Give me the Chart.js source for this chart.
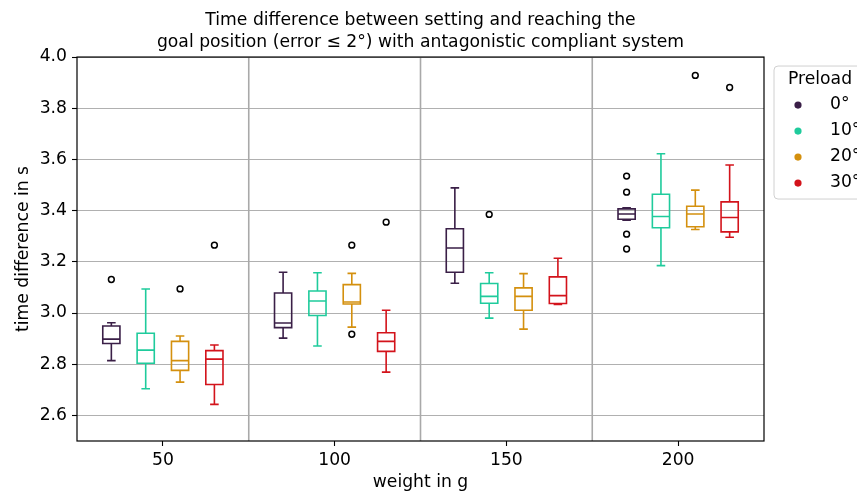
<!DOCTYPE html>
<html>
<head>
<meta charset="utf-8">
<script src="https://cdn.jsdelivr.net/npm/chart.js@4.4.1/dist/chart.umd.min.js"></script>
<style>
  html, body { margin: 0; padding: 0; background: #fff; overflow: hidden; }
  #wrap { width: 857px; height: 493px; position: relative; }
</style>
</head>
<body>
<div id="wrap"><canvas id="chart" width="857" height="493"></canvas></div>
<script>
// Categories and tick labels
const weights = [50, 100, 150, 200];
const preloads = ['0°', '10°', '20°', '30°'];
const weightTicks = [50, 100, 150, 200];
const timeTicks = [2.6, 2.8, 3.0, 3.2, 3.4, 3.6, 3.8, 4.0];
const groupDividers = [75, 125, 175];

// Box plot statistics, one row per preload, one column per weight
const lowerWhisker = [
  [2.814, 2.902, 3.116, 3.363],
  [2.704, 2.871, 2.980, 3.185],
  [2.730, 2.945, 2.937, 3.326],
  [2.643, 2.769, 3.033, 3.296]
];
const lowerQuartile = [
  [2.881, 2.943, 3.159, 3.366],
  [2.804, 2.990, 3.038, 3.333],
  [2.776, 3.035, 3.011, 3.337],
  [2.721, 2.850, 3.037, 3.317]
];
const medianTime = [
  [2.898, 2.961, 3.254, 3.387],
  [2.855, 3.047, 3.065, 3.377],
  [2.814, 3.043, 3.065, 3.387],
  [2.820, 2.889, 3.068, 3.373]
];
const upperQuartile = [
  [2.949, 3.078, 3.329, 3.407],
  [2.921, 3.086, 3.115, 3.464],
  [2.889, 3.111, 3.098, 3.417],
  [2.853, 2.923, 3.141, 3.434]
];
const upperWhisker = [
  [2.962, 3.159, 3.489, 3.411],
  [3.094, 3.157, 3.157, 3.622],
  [2.910, 3.155, 3.154, 3.480],
  [2.875, 3.011, 3.214, 3.578]
];
// Fliers per preload, one list per weight
const fliers = [
  [[3.131], [], [], [3.535, 3.472, 3.308, 3.250]],
  [[], [], [3.385], []],
  [[3.094], [3.265, 2.917], [], [3.928]],
  [[3.265], [3.355], [], [3.881]]
];

// Styling
const preloadColors = ['#3a1f47', '#1fcb9c', '#d4900e', '#d3131b'];
const offsets = [-15, -5, 5, 15];   // box centre relative to weight
const boxHalf = 2.5;
const capHalf = 1.25;
const FONT = "'DejaVu Sans', sans-serif";
const FS = 17.2;

const flierDatasets = preloads.map((label, s) => ({
  label,
  data: fliers[s].flatMap((vals, g) => vals.map(v => ({ x: weights[g] + offsets[s], y: v }))),
  pointStyle: 'circle',
  pointRadius: 2.9,
  pointHoverRadius: 2.9,
  pointBorderWidth: 1.5,
  borderColor: '#000',
  backgroundColor: 'rgba(0,0,0,0)'
}));

const boxPlot = {
  id: 'boxPlot',
  beforeDatasetsDraw(chart) {
    const { ctx, chartArea, scales: { x } } = chart;
    ctx.save();
    ctx.strokeStyle = '#a9a9a9';
    ctx.lineWidth = 1.6;
    groupDividers.forEach(v => {
      const px = x.getPixelForValue(v);
      ctx.beginPath();
      ctx.moveTo(px, chartArea.top);
      ctx.lineTo(px, chartArea.bottom);
      ctx.stroke();
    });
    ctx.restore();
  },
  afterDatasetsDraw(chart) {
    const { ctx, scales: { x, y } } = chart;
    ctx.save();
    ctx.lineWidth = 1.6;
    preloads.forEach((p, s) => {
      ctx.strokeStyle = preloadColors[s];
      weights.forEach((w, g) => {
        const c = w + offsets[s];
        const xl = x.getPixelForValue(c - boxHalf);
        const xr = x.getPixelForValue(c + boxHalf);
        const cl = x.getPixelForValue(c - capHalf);
        const cr = x.getPixelForValue(c + capHalf);
        const xc = x.getPixelForValue(c);
        const yLo = y.getPixelForValue(lowerWhisker[s][g]);
        const yQ1 = y.getPixelForValue(lowerQuartile[s][g]);
        const yMed = y.getPixelForValue(medianTime[s][g]);
        const yQ3 = y.getPixelForValue(upperQuartile[s][g]);
        const yHi = y.getPixelForValue(upperWhisker[s][g]);
        ctx.beginPath();
        ctx.rect(xl, yQ3, xr - xl, yQ1 - yQ3);
        ctx.moveTo(xl, yMed); ctx.lineTo(xr, yMed);
        ctx.moveTo(xc, yQ1); ctx.lineTo(xc, yLo);
        ctx.moveTo(xc, yQ3); ctx.lineTo(xc, yHi);
        ctx.moveTo(cl, yLo); ctx.lineTo(cr, yLo);
        ctx.moveTo(cl, yHi); ctx.lineTo(cr, yHi);
        ctx.stroke();
      });
    });
    ctx.restore();
  },
  afterDraw(chart) {
    const { ctx, chartArea: a } = chart;
    ctx.save();
    // axes frame
    ctx.strokeStyle = '#000';
    ctx.lineWidth = 1.2;
    ctx.strokeRect(a.left, a.top, a.right - a.left, a.bottom - a.top);

    // legend box with title
    const lx = a.right + 10, ly = a.top + 9, lw = 110, lh = 133, r = 4;
    ctx.beginPath();
    ctx.moveTo(lx + r, ly);
    ctx.lineTo(lx + lw - r, ly);
    ctx.arcTo(lx + lw, ly, lx + lw, ly + r, r);
    ctx.lineTo(lx + lw, ly + lh - r);
    ctx.arcTo(lx + lw, ly + lh, lx + lw - r, ly + lh, r);
    ctx.lineTo(lx + r, ly + lh);
    ctx.arcTo(lx, ly + lh, lx, ly + lh - r, r);
    ctx.lineTo(lx, ly + r);
    ctx.arcTo(lx, ly, lx + r, ly, r);
    ctx.closePath();
    ctx.fillStyle = 'rgba(255,255,255,0.85)';
    ctx.fill();
    ctx.strokeStyle = '#d0d0d0';
    ctx.lineWidth = 1;
    ctx.stroke();

    ctx.fillStyle = '#000';
    ctx.font = FS + 'px ' + FONT;
    ctx.textBaseline = 'middle';
    ctx.textAlign = 'left';
    ctx.fillText('Preload', lx + 14, ly + 14);
    preloads.forEach((p, s) => {
      const ey = ly + 39 + s * 26;
      ctx.beginPath();
      ctx.arc(lx + 24, ey, 3.6, 0, Math.PI * 2);
      ctx.fillStyle = preloadColors[s];
      ctx.fill();
      ctx.fillStyle = '#000';
      ctx.fillText(p, lx + 56, ey);
    });
    ctx.restore();
  }
};

new Chart(document.getElementById('chart'), {
  type: 'scatter',
  data: { datasets: flierDatasets },
  options: {
    responsive: false,
    animation: false,
    devicePixelRatio: 1,
    layout: { padding: { left: 0, right: 93, top: 0, bottom: 0 } },
    plugins: {
      legend: { display: false },
      tooltip: { enabled: false },
      title: {
        display: true,
        fullSize: false,
        text: ['Time difference between setting and reaching the',
               'goal position (error ≤ 2°) with antagonistic compliant system'],
        color: '#000',
        font: { family: FONT, size: FS, weight: 'normal', lineHeight: 1.28 },
        padding: { top: 10, bottom: 3 }
      }
    },
    scales: {
      x: {
        type: 'linear',
        min: 25,
        max: 225,
        afterBuildTicks: s => { s.ticks = weightTicks.map(v => ({ value: v })); },
        afterFit: s => { s.height = 52; },
        border: { display: false },
        grid: { drawOnChartArea: false, drawTicks: true, tickLength: 5, tickColor: '#000', tickWidth: 1.1 },
        ticks: {
          color: '#000',
          font: { family: FONT, size: FS },
          padding: 4,
          maxRotation: 0,
          callback: v => String(v)
        },
        title: {
          display: true,
          text: 'weight in g',
          color: '#000',
          font: { family: FONT, size: FS },
          padding: { top: 0, bottom: 0 }
        }
      },
      y: {
        type: 'linear',
        min: 2.5,
        max: 4.0,
        afterBuildTicks: s => { s.ticks = timeTicks.map(v => ({ value: v })); },
        afterFit: s => { s.width = 77; },
        border: { display: false },
        grid: { color: '#b0b0b0', lineWidth: 1, drawTicks: true, tickLength: 5, tickColor: '#000', tickWidth: 1.1 },
        ticks: {
          color: '#000',
          font: { family: FONT, size: FS },
          padding: 5,
          callback: v => Number(v).toFixed(1)
        },
        title: {
          display: true,
          text: 'time difference in s',
          color: '#000',
          font: { family: FONT, size: FS },
          padding: { top: 13, bottom: 0 }
        }
      }
    }
  },
  plugins: [boxPlot]
});
</script>
</body>
</html>
